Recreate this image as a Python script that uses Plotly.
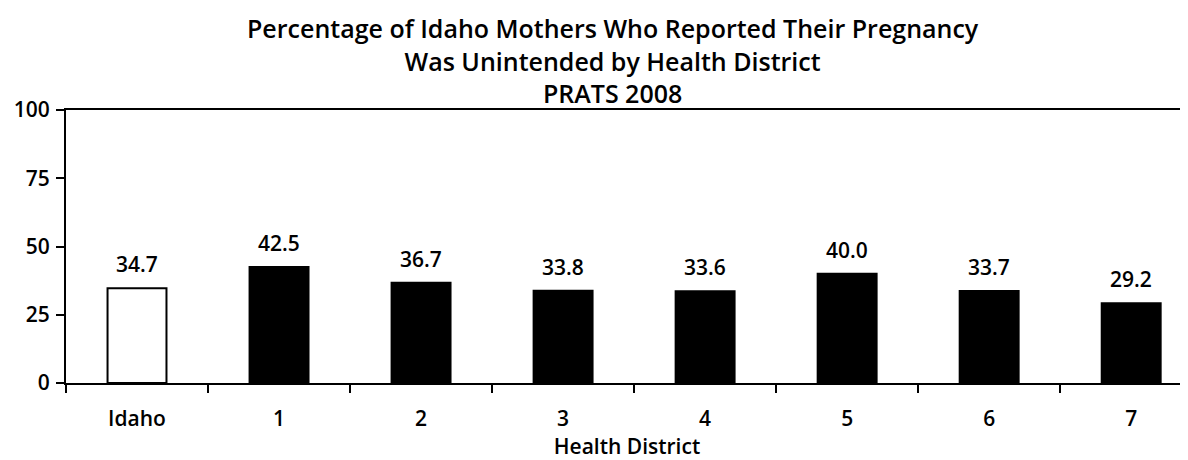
import plotly.graph_objects as go

categories = ["Idaho", "1", "2", "3", "4", "5", "6", "7"]
values = [34.7, 42.5, 36.7, 33.8, 33.6, 40.0, 33.7, 29.2]
labels = ["34.7", "42.5", "36.7", "33.8", "33.6", "40.0", "33.7", "29.2"]
y_ticks = [0, 25, 50, 75, 100]
bar_colors = ["white"] + ["black"] * 7

title_text = ("Percentage of Idaho Mothers Who Reported Their Pregnancy<br>"
              "Was Unintended by Health District<br>PRATS 2008")

FONT = "Open Sans, Lato, sans-serif"

fig = go.Figure()
fig.add_trace(go.Bar(
    x=categories, y=values, width=0.415,
    marker=dict(color=bar_colors, line=dict(color="black", width=2)),
    hoverinfo="skip",
))

for c, v, t in zip(categories, values, labels):
    fig.add_annotation(x=c, y=v, text=t, showarrow=False, yanchor="bottom",
                       yshift=8, font=dict(family=FONT, size=21, color="black", weight=600))

# title as a paper-anchored annotation (plot area spans 110..383 px on the page)
fig.add_annotation(xref="paper", yref="paper", x=(613 - 66) / 1122, y=(383 - 61) / 273,
                   xanchor="center", yanchor="middle", showarrow=False,
                   text=title_text,
                   font=dict(family=FONT, size=25, color="black", weight=600))

# page body has an 8px default margin, so the figure is sized/offset to compensate
fig.update_layout(
    width=1180, height=452,
    margin=dict(l=58, r=0, t=102, b=77),
    paper_bgcolor="white", plot_bgcolor="white",
    showlegend=False,
    font=dict(family=FONT, color="black"),
)

fig.update_xaxes(
    type="category", range=[-0.5, 7.40], automargin=False,
    showline=True, mirror=True, linecolor="black", linewidth=2,
    ticks="outside", tickson="boundaries", ticklen=8, tickwidth=2, tickcolor="black",
    tickfont=dict(family=FONT, size=21, color="black", weight=600),
    ticklabelstandoff=16,
    showgrid=False, zeroline=False,
    title=dict(text="Health District", standoff=8,
               font=dict(family=FONT, size=21, color="black", weight=600)),
)
fig.update_yaxes(
    range=[0, 100], tickvals=y_ticks, automargin=False,
    showline=True, linecolor="black", linewidth=2,
    ticks="outside", ticklen=8, tickwidth=2, tickcolor="black",
    tickfont=dict(family=FONT, size=21, color="black", weight=600),
    ticklabelstandoff=2,
    showgrid=False, zeroline=False,
)

fig.write_html("out.html")
